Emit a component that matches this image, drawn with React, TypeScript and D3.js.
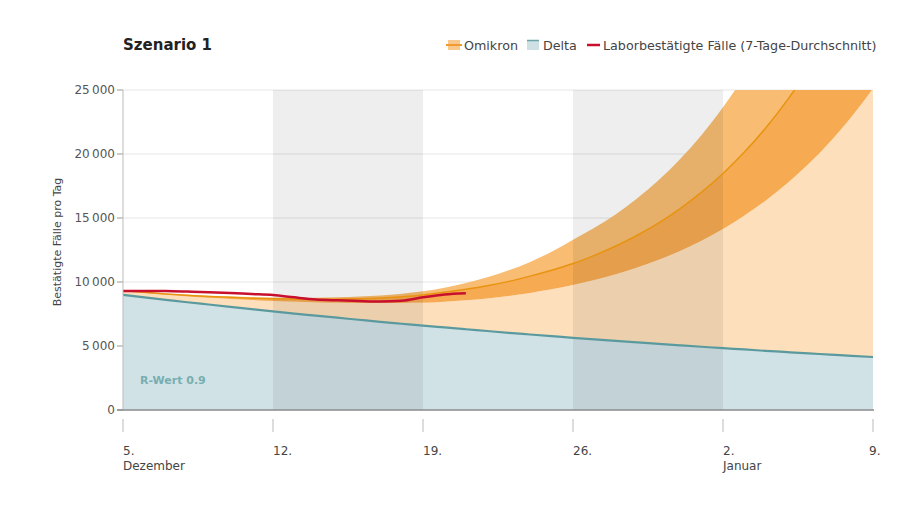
import * as d3 from 'd3'
import React from 'react'

// Tage ab 5. Dezember 2021
const start = new Date(2021, 11, 5)
const days = d3.range(36)

// Delta (Fälle pro Tag)
const delta = [
  9000, 8800, 8610, 8420, 8240, 8060, 7880, 7700, 7530, 7370, 7210, 7050,
  6890, 6740, 6590, 6450, 6310, 6170, 6030, 5900, 5770, 5640, 5520, 5400,
  5280, 5160, 5050, 4940, 4830, 4730, 4620, 4520, 4420, 4330, 4230, 4140,
]

// Omikron, auf Delta gestapelt: Mittelwert, untere und obere Grenze
const omiMid = [
  320, 390, 460, 540, 630, 740, 860, 1000, 1130, 1280, 1450, 1640,
  1860, 2110, 2400, 2740, 3120, 3540, 4020, 4560, 5150, 5800, 6560, 7410,
  8370, 9460, 10690, 12080, 13650, 15420, 17430, 19690, 22250, 25150, 28420, 32110,
]
const omiLow = [
  270, 330, 390, 455, 530, 615, 710, 820, 920, 1030, 1160, 1300,
  1460, 1620, 1780, 2010, 2260, 2550, 2880, 3250, 3660, 4130, 4640, 5210,
  5850, 6570, 7380, 8290, 9310, 10460, 11750, 13190, 14810, 16630, 18680, 20980,
]
const omiHigh = [
  350, 425, 500, 590, 690, 810, 940, 1095, 1240, 1405, 1595, 1810,
  2055, 2340, 2680, 3110, 3620, 4200, 4880, 5670, 6590, 7660, 8710, 9900,
  11260, 12800, 14560, 16550, 18820, 21400, 24330, 27660, 31450, 35760, 40660, 46230,
]

// Laborbestätigte Fälle, 7-Tage-Durchschnitt (bis 21. Dezember)
const confirmed = [
  9300, 9300, 9290, 9250, 9200, 9140, 9060, 8980, 8800, 8640, 8570, 8520,
  8480, 8530, 8800, 9020, 9120,
]

const yTicks = [0, 5000, 10000, 15000, 20000, 25000]
const xTicks = [0, 7, 14, 21, 28, 35]
const xLabels = ['5.', '12.', '19.', '26.', '2.', '9.']
const xSubLabels = ['Dezember', '', '', '', 'Januar', '']
const shadedWeeks = [[7, 14], [21, 28]]

const W = 900, H = 505
const m = { top: 90, right: 25, bottom: 95, left: 123 }
const font = '"DejaVu Sans", Verdana, sans-serif'

const de = d3.formatLocale({ decimal: ',', thousands: '\u2009', grouping: [3], currency: ['', '€'] })
const fmt = de.format(',d')

const day = (i: number) => d3.timeDay.offset(start, i)

export default function App() {
  const
    x = d3.scaleTime().domain([day(0), day(35)]).range([m.left, W - m.right - 2]),
    y = d3.scaleLinear().domain([0, 25000]).range([H - m.bottom, m.top]),
    curve = d3.curveMonotoneX,
    band = (lo: (i: number) => number, hi: (i: number) => number) =>
      d3.area<number>().x(i => x(day(i))).y0(i => y(lo(i))).y1(i => y(hi(i))).curve(curve)(days) as string,
    line = (v: number[]) =>
      d3.line<number>().x((_, i) => x(day(i))).y(d => y(d)).curve(curve)(v) as string,
    x0 = x(day(0)), x1 = x(day(35)), yb = y(0), yt = y(25000)

  return (
    <svg width={W} height={H} style={{ position: 'absolute', left: 0, top: 0, background: '#fff' }} fontFamily={font}>
      <defs>
        <clipPath id='plot'><rect x={x0} y={yt} width={x1 - x0} height={yb - yt} /></clipPath>
      </defs>

      <text x={123} y={50} fontSize={15} fontWeight='bold' fill='#222'>Szenario 1</text>

      <g fontSize={12.7} fill='#444'>
        <rect x={448} y={40} width={12} height={10} fill='#f9c88c' />
        <line x1={446} x2={462} y1={45} y2={45} stroke='#f29a2e' strokeWidth={2} />
        <text x={464} y={49.5}>Omikron</text>
        <rect x={527} y={40} width={12} height={10} fill='#cfe0e4' />
        <line x1={527} x2={539} y1={40.5} y2={40.5} stroke='#6aa6a8' strokeWidth={1.5} />
        <text x={543} y={49.5}>Delta</text>
        <line x1={587} x2={600} y1={45} y2={45} stroke='#c8102e' strokeWidth={2.5} />
        <text x={603} y={49.5}>Laborbestätigte Fälle (7-Tage-Durchschnitt)</text>
      </g>

      {yTicks.map(t => (
        <g key={t}>
          <line x1={x0} x2={x1} y1={y(t)} y2={y(t)} stroke='#e6e6e6' />
          <line x1={x0 - 6} x2={x0} y1={y(t)} y2={y(t)} stroke='#999' />
          <text x={x0 - 8} y={y(t) + 4} textAnchor='end' fontSize={12} fill='#555'>{fmt(t)}</text>
        </g>
      ))}

      <g clipPath='url(#plot)'>
        <path d={band(() => 0, i => delta[i])} fill='#d1e2e6' />
        <path d={band(i => delta[i], i => delta[i] + omiLow[i])} fill='#fddfbb' />
        <path d={band(i => delta[i] + omiLow[i], i => delta[i] + omiMid[i])} fill='#f6aa52' />
        <path d={band(i => delta[i] + omiMid[i], i => delta[i] + omiHigh[i])} fill='#f8bd72' />
        {shadedWeeks.map(([a, b]) => (
          <rect key={a} x={x(day(a))} width={x(day(b)) - x(day(a))} y={yt} height={yb - yt} fill='#000' fillOpacity={0.065} />
        ))}
        <path d={line(delta.map((d, i) => d + omiMid[i]))} fill='none' stroke='#e8930f' strokeWidth={1.5} />
        <path d={line(delta)} fill='none' stroke='#5a9a9e' strokeWidth={2.2} />
        <path d={line(confirmed)} fill='none' stroke='#c8102e' strokeWidth={2.5} />
      </g>

      <line x1={x0} x2={x0} y1={yt} y2={yb} stroke='#bbb' />
      <line x1={x0 - 6} x2={x1 + 1} y1={yb} y2={yb} stroke='#8c8c8c' strokeWidth={1.5} />

      <text x={140} y={384} fontSize={11} fontWeight='bold' fill='#77aeb1'>R-Wert 0.9</text>

      <text transform='translate(61,242) rotate(-90)' textAnchor='middle' fontSize={11} fill='#444'>
        Bestätigte Fälle pro Tag
      </text>

      {xTicks.map((t, k) => (
        <g key={t} fontSize={12} fill='#444'>
          <line x1={x(day(t))} x2={x(day(t))} y1={419} y2={432} stroke='#bbb' />
          <text x={x(day(t)) - (k === xTicks.length - 1 ? 4 : 0)} y={455}>{xLabels[k]}</text>
          {xSubLabels[k] && <text x={x(day(t))} y={470}>{xSubLabels[k]}</text>}
        </g>
      ))}
    </svg>
  )
}
